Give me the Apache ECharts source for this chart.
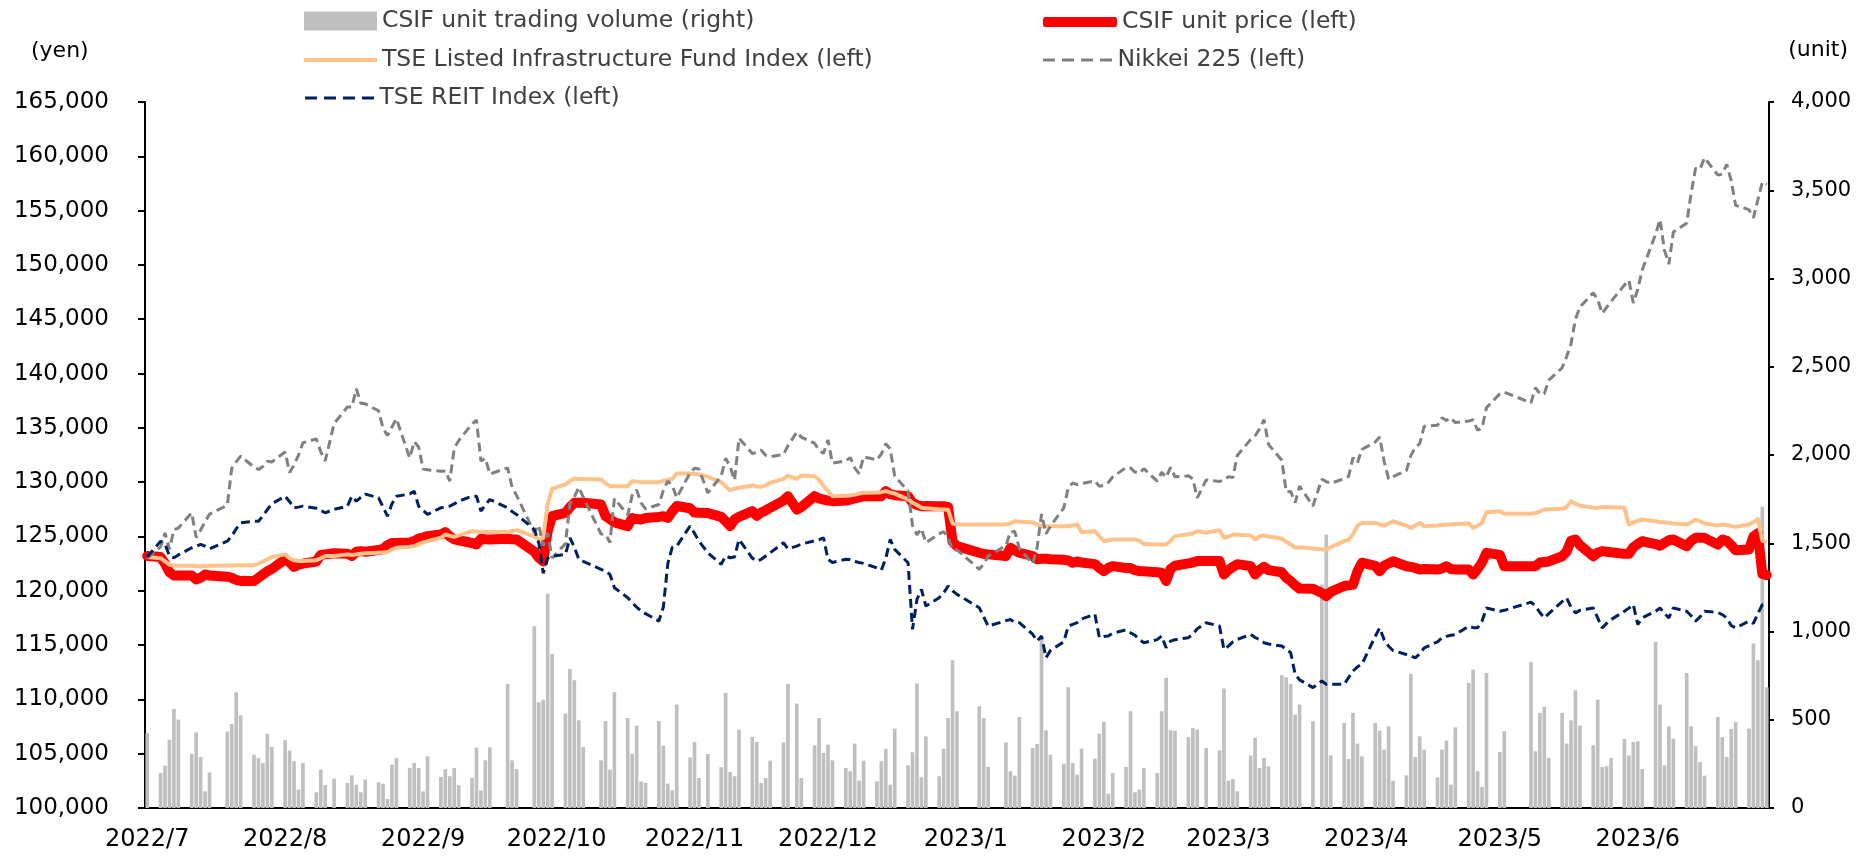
<!DOCTYPE html>
<html>
<head>
<meta charset="utf-8">
<script src="https://cdn.jsdelivr.net/npm/echarts@6/dist/echarts.min.js"></script>
<style>
html,body{margin:0;padding:0;background:#fff;}
#chart{width:1869px;height:856px;}
</style>
</head>
<body>
<div id="chart"></div>
<script>
// ---------- Calendar (x axis spans every calendar day; TSE trading days carry data) ----------
const FIRST_DAY = [2022, 7, 1];
const LAST_DAY = [2023, 6, 30];
const HOLIDAYS = ['2022-07-18','2022-08-11','2022-09-19','2022-09-23','2022-10-10','2022-11-03','2022-11-23',
  '2023-01-02','2023-01-03','2023-01-09','2023-02-23','2023-03-21','2023-05-03','2023-05-04','2023-05-05'];

const NAMES = [
  'CSIF unit trading volume (right)',
  'CSIF unit price (left)',
  'TSE Listed Infrastructure Fund Index (left)',
  'Nikkei 225 (left)',
  'TSE REIT Index (left)'
];

// ---------- Data, one value per trading day (Jul 2022 ... Jun 2023) ----------
const volume = [
  425,198,240,387,561,501,306,429,289,94,202,433,476,656,524,302,283,255,421,346,
  384,325,265,104,255,89,217,130,166,142,185,132,89,161,146,138,51,246,283,227,255,227,
  94,293,176,221,180,227,130,170,342,100,270,344,703,270,221,1030,599,614,1215,873,
  535,788,724,497,346,270,492,217,656,510,306,467,151,142,492,353,138,100,586,287,
  374,170,306,231,652,204,180,444,403,374,142,170,268,372,703,592,170,355,510,312,
  359,270,227,208,365,155,268,151,265,336,132,450,242,316,705,174,406,180,336,510,837,548,
  576,510,233,372,208,183,516,340,363,964,440,302,251,684,255,189,336,280,421,
  488,81,198,233,548,89,104,227,198,548,737,440,438,401,454,444,340,327,677,
  155,164,94,297,397,227,284,236,752,741,703,529,586,491,1266,1550,298,482,278,539,365,293,
  482,438,331,463,155,185,760,289,406,331,174,331,382,132,457,709,784,208,119,765,
  318,435,828,321,539,573,284,539,365,497,667,467,355,614,232,236,284,391,297,374,
  378,221,941,586,242,463,393,765,463,350,261,183,516,401,289,448,486,450,932,837,1707,684
];

const unitPrice = [
  123200,123100,122500,121700,121400,121400,121400,121050,121200,121500,121400,121300,121200,121000,120900,120900,121200,121500,121800,122000,
  122900,122600,122200,122400,122500,122700,123300,123350,123450,123400,123200,123600,123650,123600,123750,123850,124200,124400,124400,124450,124570,124800,
  124900,125030,125180,125400,125000,124730,124650,124400,124270,124790,124750,124730,124790,124750,124730,123600,123040,122700,125500,126870,
  127180,127700,128100,128100,128100,127950,126870,126600,126300,125950,126700,126600,126570,126700,126800,126870,126700,127300,127800,127600,
  127200,127180,127150,126800,126400,125950,126570,126800,127330,126900,127200,127400,127640,128300,128710,127480,127700,128710,128500,128400,
  128300,128250,128300,128400,128500,128600,128710,128710,128710,129170,128900,128800,128710,128100,127900,127790,127800,127790,127790,127700,124500,124110,
  123500,123400,123350,123200,123960,123700,123500,123200,122900,122950,122950,122900,122850,122800,122580,122700,122600,122450,122100,
  121810,122100,122270,122100,122100,121900,121800,121800,121700,121660,120900,122000,122300,122520,122600,122730,122730,122730,121500,
  121900,122200,122450,122270,121500,121900,122200,121900,121700,121200,120900,120500,120200,120180,119800,119510,119900,120440,120500,120550,121800,122580,
  122300,121800,122300,122500,122720,122260,122200,122100,121960,122000,121950,122050,122260,122000,121960,121960,121500,122000,122600,123490,
  123300,122260,122260,122260,122600,122650,122700,123180,123600,124600,124720,124200,123180,123500,123650,123600,123550,123400,123400,124000,
  124300,124560,124300,124150,124400,124650,124720,124100,124600,124870,124870,124870,124250,124720,124600,124200,123730,123800,125000,125300,121550,121450
];

const infraIndex = [
  123100,123000,122700,122400,122330,122300,122300,122270,122250,122270,122300,122320,122330,122350,122350,122360,122500,122700,122900,123100,
  123350,123000,122800,122750,122730,122800,123000,123190,123200,123350,123300,123350,123400,123450,123500,123520,123560,123800,123960,124050,124110,124300,
  124450,124570,124880,125180,125050,124970,125100,125490,125450,125400,125400,125420,125400,125500,125580,125000,124730,124880,128000,129400,
  129800,130100,130340,130300,130300,130250,129900,129630,129630,129630,130090,130050,130000,130000,130000,130100,130200,130300,130800,130800,
  130750,130700,130490,130000,129600,129270,129400,129480,129700,129600,129570,129700,129940,130300,130610,130300,130610,130550,130200,129630,
  129200,128710,128750,128770,128850,128950,129020,129050,129080,129170,129050,128950,128410,128100,127900,127640,127600,127500,127480,127450,126200,126110,
  126110,126110,126100,126110,126200,126410,126350,126300,126100,125950,125950,125950,125950,125950,126000,126110,125400,125490,125000,
  124570,124650,124730,124730,124730,124730,124600,124300,124270,124270,124270,124600,125030,125200,125270,125490,125340,125580,124880,
  125000,125180,125150,125100,124730,125000,125100,125000,124790,124500,124270,123960,124000,123900,123810,123800,124000,124570,124700,125200,126000,126250,
  126250,126100,126000,126200,126400,126000,125790,126000,126250,125940,126000,126050,126100,126100,126150,126190,125790,126000,126250,127230,
  127330,127100,127100,127150,127300,127480,127500,127540,127700,128250,128000,127850,127650,127630,127700,127720,127700,127650,126100,126300,
  126450,126560,126400,126310,126300,126250,126200,126100,126300,126560,126400,126200,126000,126100,126050,125950,125880,126100,126300,126620,124600,124500
];

const nikkei = [
  123010,124040,125330,123820,125640,125770,127170,124910,125590,126370,127050,127880,131290,131870,132400,131380,131170,131450,131930,131860,
  132770,130880,131580,132480,133630,133980,132800,131950,135390,136930,136920,138600,137270,137210,136570,134950,134290,135080,135840,132230,133730,133240,
  131200,131140,131000,131030,130100,133110,133820,135370,135720,131940,132210,130750,131320,129550,128790,125360,126030,124140,125320,123020,
  124340,128020,128630,129540,128610,125220,125200,124440,128490,126990,128800,129280,128090,127540,127940,129250,130100,129700,128560,130850,
  131280,131210,129010,130560,132200,131460,130180,134050,132630,132760,132940,132470,132330,132540,133350,134620,134150,133570,132930,132650,
  133880,131750,131950,132260,131320,130780,132330,132050,132590,133540,133050,130560,129190,126010,125150,125720,124430,125240,125440,124930,123760,123770,
  121980,122470,123200,124150,125440,125450,123890,122480,123970,127070,125240,125940,127620,129480,129930,129780,129870,130120,129610,
  129700,129970,130470,131350,131310,130930,130830,131240,130090,130920,130440,131360,130490,130580,130300,128550,130210,130070,130170,
  130510,130420,132460,133930,134270,134910,135760,133480,132010,129110,129150,128110,129640,127800,130270,130050,129890,130320,130520,132250,131770,133000,
  133700,134160,131920,130300,130520,131060,132440,133190,133550,135140,135240,135930,135680,135920,135480,135620,135740,134780,134970,136860,
  138130,138290,137300,138700,138130,138150,139390,140520,141540,142730,145010,146120,147440,146830,145530,146090,146640,148140,148590,146500,
  147740,149520,152810,154180,151360,150070,153030,153830,156600,158900,158820,159870,158270,158360,159250,157770,155480,155090,154330,156000,157630,157420
];

const reitIndex = [
  123100,124570,124300,123190,123040,123300,123960,124100,124270,124110,123870,124570,125030,125700,126260,126410,126400,126900,127480,128000,
  128710,128200,127640,127700,127790,127600,127400,127180,127500,127790,128710,128250,128600,128900,128560,127700,126870,128000,128710,128900,129170,127790,
  127400,127030,127640,127700,127790,128000,128250,128710,128710,127330,127900,128400,127640,127300,127030,125640,124420,121600,123000,123180,
  123350,124880,124000,122890,122700,121970,121800,121500,120280,119360,118900,118500,118130,117900,117210,118500,122500,124000,124110,125950,
  125300,124570,123500,122430,123200,123040,123100,124730,123000,122730,122900,123200,123500,124420,123870,124110,124300,124600,124700,124880,
  122890,122600,122900,122890,122700,122600,122520,122100,121910,123000,124730,123810,122580,116450,119210,120130,118590,119360,119800,120440,120000,119670,
  118440,117600,116750,117250,117360,117100,117060,116000,115370,115830,113840,114500,115300,116750,116900,117060,117400,117830,115680,
  115800,115830,116100,116400,116140,115900,115500,115220,115500,115830,114760,115370,115500,115680,116000,116500,117060,116750,114600,
  114900,115300,115520,115980,115700,115500,115220,115100,114910,114600,114300,112310,111800,111080,111690,111380,111400,111380,112000,112610,113000,113230,
  115800,116580,115500,114890,114500,114130,114000,113820,114200,114740,115300,115660,115800,115900,115970,116740,116600,116590,117200,118420,
  118110,118200,118950,118600,118000,117510,117900,119000,119350,118500,117970,118200,118420,117500,116580,117000,117350,118110,118400,118730,
  116890,117500,118110,118420,117900,117510,118420,118110,117700,117200,117600,118110,118000,117800,117500,116800,116580,117200,117000,117900,118730,118700
];

// ---------- Build category axis (all calendar days) ----------
const categories = [];
const isTrading = [];
(function () {
  const start = Date.UTC(FIRST_DAY[0], FIRST_DAY[1] - 1, FIRST_DAY[2]);
  const end = Date.UTC(LAST_DAY[0], LAST_DAY[1] - 1, LAST_DAY[2]);
  for (let t = start; t <= end; t += 86400000) {
    const d = new Date(t);
    const y = d.getUTCFullYear(), m = d.getUTCMonth() + 1, dd = d.getUTCDate();
    const iso = y + '-' + String(m).padStart(2, '0') + '-' + String(dd).padStart(2, '0');
    const wd = d.getUTCDay();
    categories.push(y + '/' + m + '/' + dd);
    isTrading.push(wd !== 0 && wd !== 6 && HOLIDAYS.indexOf(iso) < 0);
  }
})();
function onCalendar(values) {
  const out = [];
  let k = 0;
  for (let i = 0; i < categories.length; i++) out.push(isTrading[i] ? (k < values.length ? values[k++] : null) : null);
  return out;
}
const fmtComma = v => String(v).replace(/\B(?=(\d{3})+(?!\d))/g, ',');

const FONT = 'DejaVu Sans';
const DASH_ICON = 'path://M0,0h12v3h-12z M19,0h12v3h-12z M38,0h12v3h-12z M57,0h12v3h-12z';
const legendBase = {
  padding: 0, itemGap: 0, selectedMode: false, orient: 'horizontal',
  textStyle: { fontFamily: FONT, fontSize: 23.5, color: '#404040' }
};

const chart = echarts.init(document.getElementById('chart'), null, { renderer: 'canvas' });
chart.setOption({
  animation: false,
  backgroundColor: '#ffffff',
  grid: { left: 145, right: 100, top: 102, bottom: 48, containLabel: false },
  legend: [
    Object.assign({}, legendBase, { left: 304, top: 9, itemWidth: 73, itemHeight: 19,
      data: [{ name: NAMES[0], icon: 'rect', itemStyle: { color: '#BFBFBF' } }] }),
    Object.assign({}, legendBase, { left: 1043, top: 10, itemWidth: 74, itemHeight: 10,
      data: [{ name: NAMES[1], icon: 'roundRect', itemStyle: { color: '#FF0000' } }] }),
    Object.assign({}, legendBase, { left: 304, top: 48, itemWidth: 73, itemHeight: 4,
      data: [{ name: NAMES[2], icon: 'rect', itemStyle: { color: '#FFC28A' } }] }),
    Object.assign({}, legendBase, { left: 1043, top: 48, itemWidth: 70, itemHeight: 3,
      data: [{ name: NAMES[3], icon: DASH_ICON, itemStyle: { color: '#808080' } }] }),
    Object.assign({}, legendBase, { left: 305, top: 86, itemWidth: 70, itemHeight: 3,
      data: [{ name: NAMES[4], icon: DASH_ICON, itemStyle: { color: '#002060' } }] })
  ],
  graphic: [
    { type: 'text', left: 31, top: 40, style: { text: '(yen)', font: '22px "DejaVu Sans"', fill: '#000000' } },
    { type: 'text', right: 21, top: 39, style: { text: '(unit)', font: '22px "DejaVu Sans"', fill: '#000000' } }
  ],
  xAxis: {
    type: 'category',
    data: categories,
    boundaryGap: true,
    axisLine: { show: true, lineStyle: { color: '#000000', width: 2 } },
    axisTick: { show: false },
    splitLine: { show: false },
    axisLabel: {
      interval: (idx, val) => /\/1$/.test(val),
      formatter: val => val.split('/').slice(0, 2).join('/'),
      fontFamily: FONT, fontSize: 24, color: '#000000', margin: 20, hideOverlap: false
    }
  },
  yAxis: [
    {
      type: 'value', min: 100000, max: 165000, interval: 5000, position: 'left',
      axisLine: { show: true, lineStyle: { color: '#000000', width: 2 } },
      axisTick: { show: true, length: 7, lineStyle: { color: '#000000', width: 2 } },
      splitLine: { show: false },
      axisLabel: { formatter: fmtComma, fontFamily: FONT, fontSize: 23, color: '#000000', margin: 36 }
    },
    {
      type: 'value', min: 0, max: 4000, interval: 500, position: 'right',
      axisLine: { show: true, lineStyle: { color: '#000000', width: 2 } },
      axisTick: { show: true, length: 5, lineStyle: { color: '#000000', width: 2 } },
      splitLine: { show: false },
      axisLabel: { formatter: fmtComma, fontFamily: FONT, fontSize: 21, color: '#000000', margin: 22 }
    }
  ],
  series: [
    {
      name: NAMES[0], type: 'bar', yAxisIndex: 1, data: onCalendar(volume),
      barCategoryGap: '18%', itemStyle: { color: '#BFBFBF' }, z: 1
    },
    {
      name: NAMES[1], type: 'line', yAxisIndex: 0, data: onCalendar(unitPrice),
      connectNulls: true, symbol: 'none', showSymbol: false,
      lineStyle: { color: '#FF0000', width: 10, join: 'round', cap: 'round' },
      itemStyle: { color: '#FF0000' }, z: 2
    },
    {
      name: NAMES[2], type: 'line', yAxisIndex: 0, data: onCalendar(infraIndex),
      connectNulls: true, symbol: 'none', showSymbol: false,
      lineStyle: { color: '#FFC28A', width: 4, join: 'round' },
      itemStyle: { color: '#FFC28A' }, z: 3
    },
    {
      name: NAMES[3], type: 'line', yAxisIndex: 0, data: onCalendar(nikkei),
      connectNulls: true, symbol: 'none', showSymbol: false,
      lineStyle: { color: '#808080', width: 3, type: [9, 5] },
      itemStyle: { color: '#808080' }, z: 4
    },
    {
      name: NAMES[4], type: 'line', yAxisIndex: 0, data: onCalendar(reitIndex),
      connectNulls: true, symbol: 'none', showSymbol: false,
      lineStyle: { color: '#002060', width: 3, type: [9, 5] },
      itemStyle: { color: '#002060' }, z: 5
    }
  ]
});
</script>
</body>
</html>
